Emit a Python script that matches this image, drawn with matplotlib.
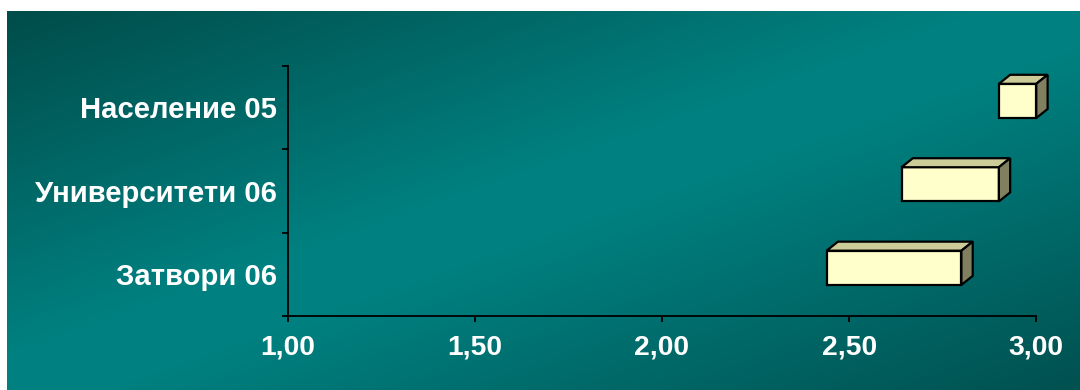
import numpy as np
import matplotlib
matplotlib.use("Agg")
import matplotlib.pyplot as plt
from matplotlib.patches import Polygon
from matplotlib.colors import LinearSegmentedColormap

# Data: floating ranges per category (bottom to top)
categories = ["Затвори 06", "Университети 06", "Население 05"]
range_start = [2.44, 2.64, 2.90]
range_end = [2.80, 2.90, 3.00]
x_ticks = [1.00, 1.50, 2.00, 2.50, 3.00]
x_tick_labels = ["1,00", "1,50", "2,00", "2,50", "3,00"]

W, H, DPI = 1080, 390, 100
fig = plt.figure(figsize=(W / DPI, H / DPI), dpi=DPI, facecolor="white")

# Diagonal teal gradient background
bg = fig.add_axes([7 / W, 0, 1 - 7 / W, (H - 11) / H], zorder=0)
nx, ny = 400, 150
xs = np.linspace(0, 1, nx)
ys = np.linspace(0, 1, ny)
X, Y = np.meshgrid(xs, ys)
T = (X + Y) / 2.0  # 0 at top-left, 1 at bottom-right
cmap = LinearSegmentedColormap.from_list(
    "teal", [(0.0, "#004d4a"), (0.45, "#008080"), (0.55, "#008080"), (1.0, "#005150")])
bg.imshow(T, cmap=cmap, aspect="auto", extent=[0, 1, 1, 0], vmin=0, vmax=1,
          interpolation="bilinear")
bg.set_axis_off()

ax = fig.add_axes([287.5 / W, (H - 316) / H, (1036.3 - 287.5) / W, (316 - 65.7) / H],
                  zorder=1)
ax.patch.set_alpha(0)

ypos = np.arange(len(categories))
bar_h = 0.41
lift = 0.078   # front face sits slightly above band centre
dx = 0.0302    # depth offset (data units)
dy = 0.108

front = "#FFFFCC"
top_c = "#CCCC99"
side_c = "#808060"
lw = 1.6

widths = np.array(range_end) - np.array(range_start)
bars = ax.barh(ypos + lift, widths, left=range_start, height=bar_h, color=front,
               edgecolor="black", linewidth=lw, zorder=3)
for b in bars:
    b.set_clip_on(False)
    b.set_joinstyle("miter")

for y, x0, x1 in zip(ypos + lift, range_start, range_end):
    yt = y + bar_h / 2
    yb = y - bar_h / 2
    top = Polygon([(x0, yt), (x0 + dx, yt + dy), (x1 + dx, yt + dy), (x1, yt)],
                  closed=True, facecolor=top_c, edgecolor="black", linewidth=lw,
                  joinstyle="miter", zorder=3, clip_on=False)
    side = Polygon([(x1, yb), (x1, yt), (x1 + dx, yt + dy), (x1 + dx, yb + dy)],
                   closed=True, facecolor=side_c, edgecolor="black", linewidth=lw,
                   joinstyle="miter", zorder=3, clip_on=False)
    ax.add_patch(top)
    ax.add_patch(side)

ax.set_xlim(1.0, 3.0)
ax.set_ylim(-0.5, len(categories) - 0.5)
for s in ["top", "right"]:
    ax.spines[s].set_visible(False)
for s in ["left", "bottom"]:
    ax.spines[s].set_color("black")
    ax.spines[s].set_linewidth(1.3)
    ax.spines[s].set_clip_on(False)

font = dict(family="Liberation Sans", weight="bold", color="white")
ax.set_xticks(x_ticks)
ax.set_xticklabels(x_tick_labels, fontsize=20.3, **font)
ax.tick_params(axis="x", direction="out", length=4, width=1.3, color="black", pad=9.5)

ax.set_yticks(ypos)
ax.set_yticklabels(categories, fontsize=21.1, **font)
ax.tick_params(axis="y", which="major", length=0, pad=7.5)
ax.set_yticks(np.arange(-0.5, len(categories), 1.0), minor=True)
ax.tick_params(axis="y", which="minor", direction="out", length=4, width=1.3, color="black")

fig.savefig("out.png", dpi=DPI, facecolor="white")
